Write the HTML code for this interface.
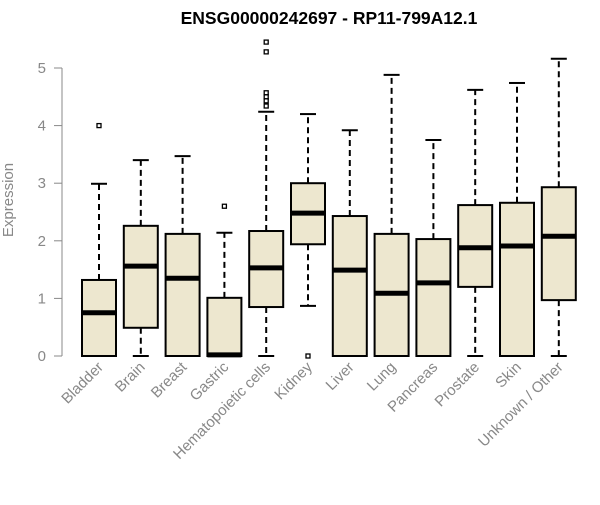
<!DOCTYPE html>
<html><head><meta charset="utf-8"><style>
body{margin:0;background:#fff}
svg{font-family:"Liberation Sans",Arial,sans-serif}
</style></head><body>
<svg id="chart" width="600" height="500">
<text x="329" y="24" text-anchor="middle" font-weight="bold" font-size="17.5">ENSG00000242697 - RP11-799A12.1</text>
<text transform="translate(13,200) rotate(-90)" text-anchor="middle" font-size="15" fill="#888">Expression</text>
<g id="axis"></g><g id="plot"></g>
</svg>
<script>
const categories=["Bladder","Brain","Breast","Gastric","Hematopoietic cells","Kidney","Liver","Lung","Pancreas","Prostate","Skin","Unknown / Other"];
const whiskerLow=[0,0,0,0,0,0.87,0,0,0,0,0,0];
const q1=[0,0.49,0,0,0.85,1.94,0,0,0,1.2,0,0.97];
const medians=[0.75,1.56,1.35,0.02,1.53,2.48,1.49,1.09,1.27,1.88,1.91,2.08];
const q3=[1.32,2.26,2.12,1.01,2.17,3.0,2.43,2.12,2.03,2.62,2.66,2.93];
const whiskerHigh=[2.99,3.40,3.47,2.14,4.24,4.2,3.92,4.88,3.75,4.62,4.74,5.16];
const outliers=[[4.0],[],[],[2.6],[5.45,5.28,4.57,4.5,4.43,4.34],[0],[],[],[],[],[],[]];
const yTicks=[0,1,2,3,4,5];
const NS="http://www.w3.org/2000/svg";
const y=v=>356-v*57.6;
const x=i=>99+i*41.8;
function mk(p,t,a){const e=document.createElementNS(NS,t);for(const k in a)e.setAttribute(k,a[k]);p.appendChild(e);return e;}
const ax=document.getElementById('axis'),pl=document.getElementById('plot');
const al=mk(ax,'line',{x1:62,x2:62,y1:y(0),y2:y(5),stroke:'#888'});


yTicks.forEach(t=>{
 const tk=mk(ax,'line',{x1:54,x2:62,y1:y(t),y2:y(t),stroke:'#888'});
 
 
 const tl=mk(ax,'text',{x:46,y:y(t)+5,'text-anchor':'end','font-size':15,fill:'#888'});
 tl.textContent=t;
 
 
});
categories.forEach((c,i)=>{
 const cx=x(i),w=17;
 const g=mk(pl,'g',{});
 
 
 mk(g,'line',{x1:cx,x2:cx,y1:y(q3[i]),y2:y(whiskerHigh[i]),stroke:'#000','stroke-width':2,'stroke-dasharray':'6,4'});
 mk(g,'line',{x1:cx,x2:cx,y1:y(q1[i]),y2:y(whiskerLow[i]),stroke:'#000','stroke-width':2,'stroke-dasharray':'6,4'});
 mk(g,'line',{x1:cx-8,x2:cx+8,y1:y(whiskerHigh[i]),y2:y(whiskerHigh[i]),stroke:'#000','stroke-width':2});
 mk(g,'line',{x1:cx-8,x2:cx+8,y1:y(whiskerLow[i]),y2:y(whiskerLow[i]),stroke:'#000','stroke-width':2});
 mk(g,'rect',{x:cx-w,y:y(q3[i]),width:2*w,height:Math.max(0,y(q1[i])-y(q3[i])),fill:'#ede7cf',stroke:'#000','stroke-width':2});
 mk(g,'line',{x1:cx-w,x2:cx+w,y1:y(medians[i]),y2:y(medians[i]),stroke:'#000','stroke-width':5});
 outliers[i].forEach(o=>{
  const p=mk(g,'rect',{x:cx-2,y:y(o)-2,width:4,height:4,fill:'none',stroke:'#000','stroke-width':1.3});
  
  
 });
 const lb=mk(pl,'text',{transform:`translate(${cx+5},${368}) rotate(-45)`,'text-anchor':'end','font-size':15,fill:'#888'});
 lb.textContent=c;
 
 
});
</script>
</body></html>
